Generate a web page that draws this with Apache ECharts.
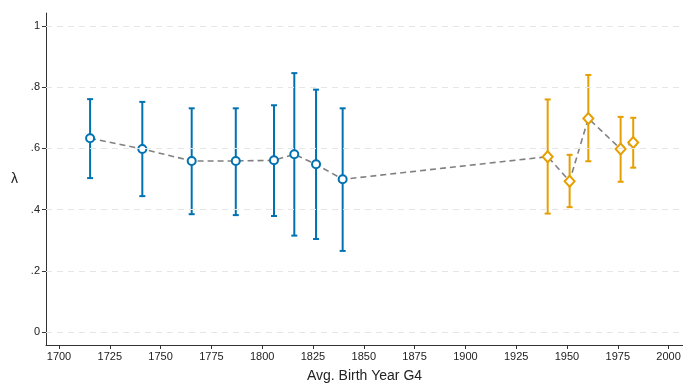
<!DOCTYPE html>
<html>
<head>
<meta charset="utf-8">
<script src="https://cdn.jsdelivr.net/npm/echarts@6/dist/echarts.min.js"></script>
<style>
  html, body { margin: 0; padding: 0; background: #fff; }
  #chart { width: 683px; height: 383px; }
</style>
</head>
<body>
<div id="chart"></div>
<script>
// early cohorts (blue circles)
const yearsA = [1715.3, 1741, 1765.3, 1787, 1805.8, 1815.8, 1826.5, 1839.6];
const lambdaA = [0.633, 0.598, 0.559, 0.559, 0.561, 0.581, 0.548, 0.499];
const hiA = [0.761, 0.752, 0.731, 0.731, 0.741, 0.846, 0.792, 0.731];
const loA = [0.503, 0.444, 0.385, 0.382, 0.379, 0.315, 0.304, 0.265];

// late cohorts (orange diamonds)
const yearsB = [1940.5, 1951.3, 1960.5, 1976.4, 1982.6];
const lambdaB = [0.573, 0.493, 0.698, 0.598, 0.619];
const hiB = [0.760, 0.579, 0.840, 0.703, 0.700];
const loB = [0.387, 0.408, 0.558, 0.491, 0.537];

const xTicks = [1700, 1725, 1750, 1775, 1800, 1825, 1850, 1875, 1900, 1925, 1950, 1975, 2000];
const yTicks = [0, 0.2, 0.4, 0.6, 0.8, 1];

const BLUE = "#0072B2";
const ORANGE = "#E69F00";

const pairs = (xs, ys) => xs.map((x, i) => [x, ys[i]]);
const bars = (xs, lo, hi) => xs.map((x, i) => [x, lo[i], hi[i]]);

const errorBar = color => (params, api) => {
  const x = api.value(0);
  const top = api.coord([x, api.value(2)]);
  const bot = api.coord([x, api.value(1)]);
  const w = 3;
  const style = { stroke: color, lineWidth: 2 };
  return {
    type: "group",
    children: [
      { type: "line", shape: { x1: top[0], y1: top[1], x2: bot[0], y2: bot[1] }, style },
      { type: "line", shape: { x1: top[0] - w, y1: top[1], x2: top[0] + w, y2: top[1] }, style },
      { type: "line", shape: { x1: bot[0] - w, y1: bot[1], x2: bot[0] + w, y2: bot[1] }, style }
    ]
  };
};

const fmtY = v => {
  if (v === 0) return "0";
  if (v === 1) return "1";
  return String(+v.toFixed(1)).replace(/^0\./, ".");
};

const myChart = echarts.init(document.getElementById("chart"));

const option = {
  animation: false,
  grid: { left: 46, right: 0, top: 13, bottom: 38, outerBoundsMode: "none", containLabel: false },
  xAxis: {
    type: "value",
    min: 1693.6,
    max: 2007.1,
    name: "Avg. Birth Year G4",
    nameLocation: "middle",
    nameGap: 24,
    nameTextStyle: { fontFamily: "Liberation Sans", fontSize: 14, color: "#222" },
    axisLine: { onZero: false, lineStyle: { color: "#333", width: 1 } },
    axisTick: { customValues: xTicks, length: 4, lineStyle: { color: "#333" } },
    axisLabel: {
      customValues: xTicks,
      formatter: v => String(v),
      fontFamily: "Liberation Sans",
      fontSize: 11,
      color: "#222",
      margin: 6
    },
    splitLine: { show: false }
  },
  yAxis: {
    type: "value",
    min: -0.0425,
    max: 1.0425,
    name: "λ",
    nameLocation: "middle",
    nameRotate: 0,
    nameGap: 28,
    nameTextStyle: { fontFamily: "Liberation Sans", fontSize: 14, color: "#222" },
    axisLine: { show: true, onZero: false, lineStyle: { color: "#333", width: 1 } },
    axisTick: { show: true, customValues: yTicks, length: 4, lineStyle: { color: "#333" } },
    axisLabel: { customValues: yTicks, formatter: fmtY, fontFamily: "Liberation Sans", fontSize: 11, color: "#222", margin: 6 },
    splitLine: { show: false }
  },
  series: [
    {
      name: "grid",
      type: "line",
      data: [],
      silent: true,
      markLine: {
        symbol: "none",
        silent: true,
        label: { show: false },
        lineStyle: { color: "#e6e6e6", type: [6, 5], width: 1 },
        data: yTicks.map(v => ({ yAxis: v }))
      }
    },
    {
      name: "trend",
      type: "line",
      data: pairs(yearsA.concat(yearsB), lambdaA.concat(lambdaB)),
      symbol: "none",
      lineStyle: { color: "#808080", width: 1.6, type: [6, 4] },
      z: 2
    },
    {
      name: "ciA",
      type: "custom",
      data: bars(yearsA, loA, hiA),
      renderItem: errorBar(BLUE),
      z: 3
    },
    {
      name: "ciB",
      type: "custom",
      data: bars(yearsB, loB, hiB),
      renderItem: errorBar(ORANGE),
      z: 3
    },
    {
      name: "A",
      type: "scatter",
      data: pairs(yearsA, lambdaA),
      symbol: "circle",
      symbolSize: 8,
      itemStyle: { color: "#fff", borderColor: BLUE, borderWidth: 2, opacity: 1 },
      z: 4
    },
    {
      name: "B",
      type: "scatter",
      data: pairs(yearsB, lambdaB),
      symbol: "diamond",
      symbolSize: [10, 11],
      itemStyle: { color: "#fff", borderColor: ORANGE, borderWidth: 2, opacity: 1 },
      z: 4
    }
  ]
};

myChart.setOption(option);
window.addEventListener("resize", () => myChart.resize());
</script>
</body>
</html>
